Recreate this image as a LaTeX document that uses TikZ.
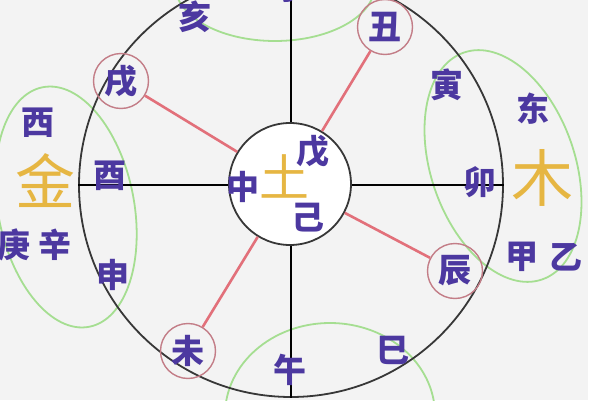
\documentclass[tikz,border=0pt]{standalone}
\usepackage{fontspec}
\newfontfamily\cjk{Noto Sans CJK SC}
\definecolor{ink}{RGB}{76,56,160}
\definecolor{goldc}{RGB}{230,182,66}
\definecolor{ringc}{RGB}{55,55,55}
\definecolor{redl}{RGB}{226,112,122}
\definecolor{redc}{RGB}{195,125,135}
\definecolor{greenl}{RGB}{165,222,145}
\definecolor{bgc}{RGB}{243,243,243}
\begin{document}
\begin{tikzpicture}[x=1pt,y=1pt,
  lbl/.style={font=\cjk\bfseries\fontsize{33}{33}\selectfont, text=ink, inner sep=0pt},
  bigc/.style={font=\cjk\fontsize{60}{60}\selectfont, text=goldc, inner sep=0pt},
  bring/.style={circle, draw=ringc, line width=1.8pt, inner sep=0pt},
  branchc/.style={circle, draw=redc, line width=1.4pt, minimum size=55pt, inner sep=0pt,
    font=\cjk\bfseries\fontsize{33}{33}\selectfont, text=ink},
  link/.style={draw=redl, line width=2.6pt},
  grp/.style={draw=greenl, line width=1.8pt},
  axisl/.style={draw=black, line width=1.6pt}]
\useasboundingbox (0,0) rectangle (600,400);
\clip (0,0) rectangle (600,400);
\fill[bgc] (0,0) rectangle (588,400);
\fill[white] (588,0) rectangle (600,400);
% green groups
\draw[grp, rotate around={11:(66,193)}] (66,193) ellipse [x radius=68pt, y radius=122pt];
\draw[grp, rotate around={19:(503,234)}] (503,234) ellipse [x radius=72pt, y radius=120pt];
\draw[grp] (275,415) ellipse [x radius=100pt, y radius=56pt];
\draw[grp] (330,-15) ellipse [x radius=105pt, y radius=92pt];
% outer ring and axes
\node[bring, minimum size=424pt] (outer) at (291,215) {};
\draw[axisl] (outer.north) -- (outer.south);
\draw[axisl] (outer.west) -- (outer.east);
% inner ring
\node[bring, minimum size=122pt, fill=white] (inner) at (290,216) {};
% branch circles
\node[branchc] (chou) at (385,373) {丑};
\node[branchc] (xu) at (121,319) {戌};
\node[branchc] (wei) at (188,49) {未};
\node[branchc] (chen) at (455,129) {辰};
\draw[link] (inner) -- (chou);
\draw[link] (inner) -- (xu);
\draw[link] (inner) -- (wei);
\draw[link] (inner) -- (chen);
% labels
\node[lbl] (zi) at (291,412) {子};
\node[lbl] (hai) at (195,383) {亥};
\node[lbl] (yin) at (447,315) {寅};
\node[lbl] (dong) at (533,291) {东};
\node[lbl] (xi) at (38,277) {西};
\node[bigc] (jin) at (45,219) {金};
\node[lbl] (you) at (110,224) {酉};
\node[lbl] (mao) at (480,218) {卯};
\node[bigc, font=\cjk\fontsize{62}{62}\selectfont] (mu) at (542,222) {木};
\node[lbl] (geng) at (14,155) {庚};
\node[lbl] (xin) at (55,155) {辛};
\node[lbl] (shen) at (113,125) {申};
\node[lbl] (jia) at (522,143) {甲};
\node[lbl] (yi) at (566,143) {乙};
\node[lbl] (wu) at (290,30) {午};
\node[lbl] (si) at (393,50) {巳};
% centre
\node[bigc, font=\cjk\fontsize{50}{50}\selectfont] (tu) at (284,224) {土};
\node[lbl] (zhong) at (243,213) {中};
\node[lbl] (wuu) at (313,249) {戊};
\node[lbl] (ji) at (308,182) {己};
\end{tikzpicture}
\end{document}
